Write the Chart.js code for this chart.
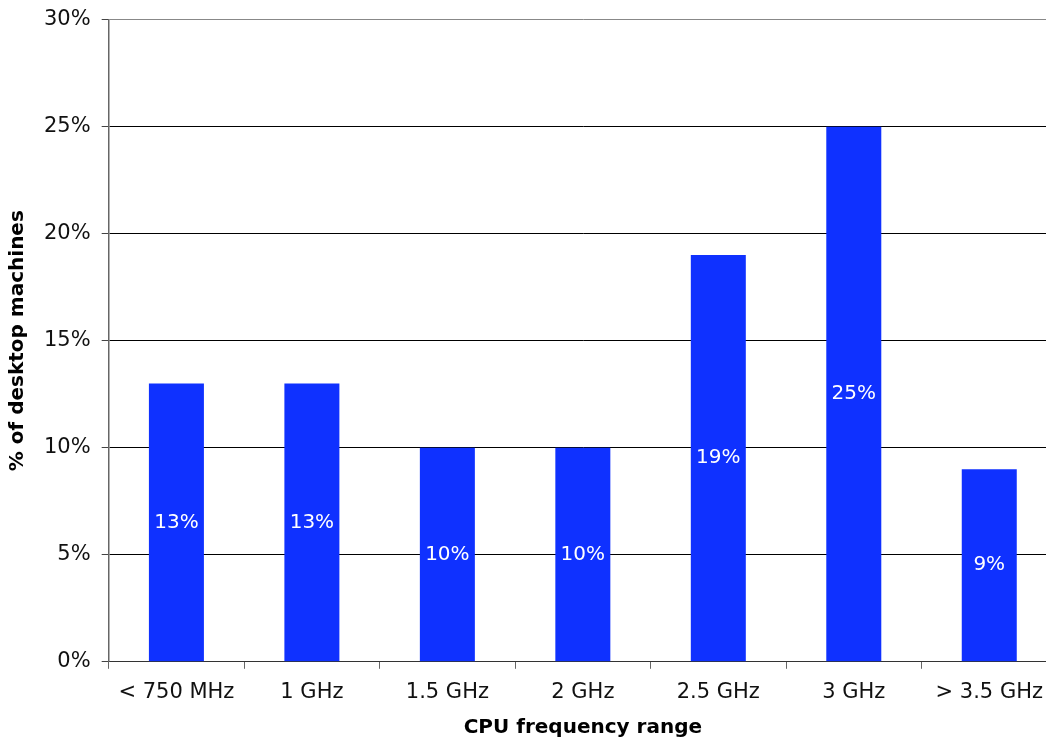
<!DOCTYPE html>
<html>
<head>
<meta charset="utf-8">
<script src="https://cdn.jsdelivr.net/npm/chart.js@4/dist/chart.umd.min.js"></script>
<style>
html,body{margin:0;padding:0;overflow:hidden;background:#fff;}
#wrap{width:1060px;height:744px;margin-top:-4px;position:relative;}
</style>
</head>
<body>
<div id="wrap"><canvas id="c"></canvas></div>
<script>
const categories = ["< 750 MHz", "1 GHz", "1.5 GHz", "2 GHz", "2.5 GHz", "3 GHz", "> 3.5 GHz"];
const shares = [13, 13, 10, 10, 19, 25, 9];
const yTicks = [0, 5, 10, 15, 20, 25, 30];

const FONT = "'DejaVu Sans', Verdana, sans-serif";

const valueLabels = {
  id: 'valueLabels',
  afterDatasetsDraw(chart) {
    const ctx = chart.ctx;
    const meta = chart.getDatasetMeta(0);
    ctx.save();
    ctx.fillStyle = '#ffffff';
    ctx.font = "20px " + FONT;
    ctx.textAlign = 'center';
    ctx.textBaseline = 'middle';
    meta.data.forEach((bar, i) => {
      const v = chart.data.datasets[0].data[i];
      const mid = (bar.y + bar.base) / 2;
      ctx.fillText(v + '%', bar.x, mid);
    });
    ctx.restore();
  }
};

new Chart(document.getElementById('c'), {
  type: 'bar',
  data: {
    labels: categories,
    datasets: [{
      data: shares,
      backgroundColor: '#0f31ff',
      borderWidth: 0,
      barPercentage: 0.406,
      categoryPercentage: 1.0
    }]
  },
  options: {
    responsive: true,
    maintainAspectRatio: false,
    animation: false,
    layout: { padding: { left: 3, right: 3, top: 4, bottom: 0 } },
    plugins: { legend: { display: false }, tooltip: { enabled: false } },
    scales: {
      x: {
        offset: true,
        grid: {
          offset: true,
          drawOnChartArea: false,
          drawTicks: true,
          tickLength: 7,
          color: '#666666',
          lineWidth: 1
        },
        border: { color: '#333333', width: 1 },
        ticks: { color: '#111111', font: { family: FONT, size: 21 }, padding: 11, maxRotation: 0 },
        title: { display: true, text: 'CPU frequency range', color: '#000', font: { family: FONT, size: 20, weight: 'bold' }, padding: { top: 0, bottom: 0 } }
      },
      y: {
        min: 0,
        max: 30,
        afterBuildTicks(axis) { axis.ticks = yTicks.map(v => ({ value: v })); },
        grid: {
          drawTicks: true,
          tickLength: 7,
          color: (c) => (c.tick && c.tick.value === 30) ? '#888888' : '#000000',
          tickColor: '#444444',
          lineWidth: 1
        },
        border: { color: '#666666', width: 1.5 },
        ticks: { color: '#111111', font: { family: FONT, size: 21 }, padding: 11, callback: (v) => v + '%' },
        title: { display: true, text: '% of desktop machines', color: '#000', font: { family: FONT, size: 20, weight: 'bold' }, padding: { top: 3, bottom: 3 } }
      }
    }
  },
  plugins: [valueLabels]
});
</script>
</body>
</html>
